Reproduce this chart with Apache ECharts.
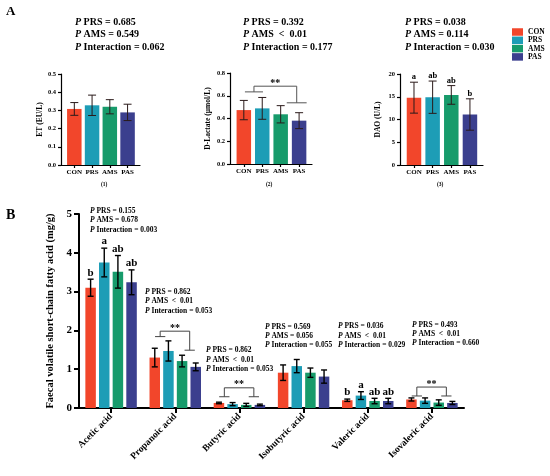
<!DOCTYPE html>
<html>
<head>
<meta charset="utf-8">
<script src="https://cdn.jsdelivr.net/npm/echarts@6/dist/echarts.min.js"></script>
<style>
html, body { margin: 0; padding: 0; background: #fff; }
#main { width: 550px; height: 476px; }
</style>
</head>
<body>
<div id="main"></div>
<script>
var groups = ['CON', 'PRS', 'AMS', 'PAS'];
var colors = ['#F2462B', '#1D9DB6', '#179B6B', '#3B3F8E'];

// panel A (mean, sd)
var etMean = [0.308, 0.328, 0.32, 0.289];
var etSd = [0.035, 0.056, 0.039, 0.045];
var dlacMean = [0.474, 0.489, 0.437, 0.381];
var dlacSd = [0.085, 0.096, 0.076, 0.07];
var daoMean = [14.8, 14.9, 15.4, 11.1];
var daoSd = [3.4, 3.55, 2.05, 3.45];
var daoLetters = ['a', 'ab', 'ab', 'b'];

// panel B
var acids = ['Acetic acid', 'Propanoic acid', 'Butyric acid', 'Isobutyric acid', 'Valeric acid', 'Isovaleric acid'];
var conMean = [3.10, 1.30, 0.13, 0.91, 0.20, 0.22];
var prsMean = [3.75, 1.47, 0.10, 1.08, 0.32, 0.19];
var amsMean = [3.51, 1.21, 0.08, 0.91, 0.18, 0.14];
var pasMean = [3.24, 1.06, 0.08, 0.81, 0.18, 0.13];
var conSd = [0.22, 0.24, 0.02, 0.20, 0.03, 0.04];
var prsSd = [0.37, 0.26, 0.04, 0.17, 0.10, 0.07];
var amsSd = [0.42, 0.15, 0.04, 0.12, 0.07, 0.07];
var pasSd = [0.32, 0.10, 0.02, 0.17, 0.07, 0.04];
var conLetters = ['b', '', '', '', 'b', ''];
var prsLetters = ['a', '', '', '', 'a', ''];
var amsLetters = ['ab', '', '', '', 'ab', ''];
var pasLetters = ['ab', '', '', '', 'ab', ''];

// significance brackets
var dlacBracket = [[0.55, 0.49, 2.87, 0.54, 0.634, 0.684, 0.538]];
var scfaBrackets = [[1, 1.84, 1.98, 1.49], [2, 0.29, 0.52, 0.29], [5, 0.31, 0.54, 0.31]];

// p-value texts
var pTextA = [
    ['PRS = 0.685', 'AMS = 0.549', 'Interaction = 0.062'],
    ['PRS = 0.392', 'AMS  <  0.01', 'Interaction = 0.177'],
    ['PRS = 0.038', 'AMS = 0.114', 'Interaction = 0.030']
];
var pTextB = [
    ['PRS = 0.155', 'AMS = 0.678', 'Interaction = 0.003'],
    ['PRS = 0.862', 'AMS  <  0.01', 'Interaction = 0.053'],
    ['PRS = 0.862', 'AMS  <  0.01', 'Interaction = 0.053'],
    ['PRS = 0.569', 'AMS = 0.056', 'Interaction = 0.055'],
    ['PRS = 0.036', 'AMS  <  0.01', 'Interaction = 0.029'],
    ['PRS = 0.493', 'AMS  <  0.01', 'Interaction = 0.660']
];

var FONT = '"Liberation Serif", "Times New Roman", serif';
var chart = echarts.init(document.getElementById('main'));

function aXAxis(gi) {
    return {
        type: 'value', gridIndex: gi, min: -0.75, max: 3.7,
        axisLine: { show: true, onZero: false, lineStyle: { color: '#000', width: 1.2 } },
        axisTick: { show: true, customValues: [0, 1, 2, 3], length: 3, lineStyle: { color: '#000', width: 1.2 } },
        axisLabel: {
            customValues: [0, 1, 2, 3],
            formatter: function (v) { return groups[Math.round(v)]; },
            fontSize: 7, fontWeight: 'bold', color: '#000', margin: 4, fontFamily: FONT
        },
        splitLine: { show: false }
    };
}
function aYAxis(gi, max, interval, digits, name, gap) {
    return {
        type: 'value', gridIndex: gi, min: 0, max: max, interval: interval,
        name: name, nameLocation: 'middle', nameGap: gap,
        nameTextStyle: { fontSize: 7.5, fontWeight: 'bold', color: '#000', fontFamily: FONT },
        axisLine: { show: true, onZero: false, lineStyle: { color: '#000', width: 1.2 } },
        axisTick: { show: true, length: 3, lineStyle: { color: '#000', width: 1.2 } },
        axisLabel: {
            formatter: function (v) { return v.toFixed(digits); },
            fontSize: 6.5, fontWeight: 'bold', color: '#000', margin: 5, fontFamily: FONT
        },
        splitLine: { show: false }
    };
}
function aBars(gi, means) {
    return {
        type: 'bar', xAxisIndex: gi, yAxisIndex: gi, barWidth: 14.5,
        data: means.map(function (m, i) {
            return { value: [i, m], itemStyle: { color: colors[i] } };
        })
    };
}
function aErrors(gi, means, sds, letters) {
    return {
        type: 'custom', xAxisIndex: gi, yAxisIndex: gi, z: 5,
        encode: { x: 0, y: 1 },
        data: means.map(function (m, i) { return [i, m, sds[i]]; }),
        renderItem: function (params, api) {
            var x = api.value(0), m = api.value(1), s = api.value(2);
            var top = api.coord([x, m + s]);
            var bot = api.coord([x, m - s]);
            var st = { stroke: '#2a1a1a', lineWidth: 1 };
            var ch = [
                { type: 'line', shape: { x1: top[0], y1: top[1], x2: bot[0], y2: bot[1] }, style: st },
                { type: 'line', shape: { x1: top[0] - 4, y1: top[1], x2: top[0] + 4, y2: top[1] }, style: st },
                { type: 'line', shape: { x1: bot[0] - 4, y1: bot[1], x2: bot[0] + 4, y2: bot[1] }, style: st }
            ];
            if (letters && letters[params.dataIndex]) {
                ch.push({ type: 'text', style: {
                    text: letters[params.dataIndex], x: top[0], y: top[1] - 0.5,
                    align: 'center', verticalAlign: 'bottom',
                    font: 'bold 8.5px ' + FONT, fill: '#000'
                } });
            }
            return { type: 'group', children: ch };
        }
    };
}

var bMeans = [conMean, prsMean, amsMean, pasMean];
var bSds = [conSd, prsSd, amsSd, pasSd];
var bLetters = [conLetters, prsLetters, amsLetters, pasLetters];
var bErrData = [];
var bErrLetters = [];
for (var k = 0; k < 4; k++) {
    for (var c = 0; c < acids.length; c++) {
        bErrData.push([c, k, bMeans[k][c], bSds[k][c]]);
        bErrLetters.push(bLetters[k][c]);
    }
}

var series = [
    aBars(0, etMean), aErrors(0, etMean, etSd, null),
    aBars(1, dlacMean), aErrors(1, dlacMean, dlacSd, null),
    aBars(2, daoMean), aErrors(2, daoMean, daoSd, daoLetters)
];

// D-Lactate bracket
series.push({
    type: 'custom', xAxisIndex: 1, yAxisIndex: 1, z: 6,
    encode: { x: 0, y: 4 },
    data: dlacBracket,
    renderItem: function (params, api) {
        var lx = api.value(0), lh = api.value(1), rx = api.value(2), rh = api.value(3);
        var ly = api.value(4), ty = api.value(5), ry = api.value(6);
        var a1 = api.coord([lx - lh, ly]), a2 = api.coord([lx + lh, ly]), a3 = api.coord([lx, ly]);
        var t1 = api.coord([lx, ty]), t2 = api.coord([rx, ty]);
        var b1 = api.coord([rx - rh, ry]), b2 = api.coord([rx + rh, ry]), b3 = api.coord([rx, ry]);
        var st = { stroke: '#555', lineWidth: 1, fill: 'none' };
        return { type: 'group', children: [
            { type: 'polyline', shape: { points: [a1, a2] }, style: st },
            { type: 'polyline', shape: { points: [a3, t1, t2, b3] }, style: st },
            { type: 'polyline', shape: { points: [b1, b2] }, style: st },
            { type: 'text', style: { text: '**', x: (t1[0] + t2[0]) / 2, y: t1[1] - 3,
                align: 'center', verticalAlign: 'middle', font: 'bold 10px ' + FONT, fill: '#000' } }
        ] };
    }
});

groups.forEach(function (g, k) {
    series.push({
        name: g, type: 'bar', xAxisIndex: 3, yAxisIndex: 3,
        barWidth: 10.5, barGap: '30%',
        itemStyle: { color: colors[k] },
        data: bMeans[k]
    });
});

series.push({
    type: 'custom', xAxisIndex: 3, yAxisIndex: 3, z: 5,
    encode: { x: 0, y: 2 },
    data: bErrData,
    renderItem: function (params, api) {
        var c = api.value(0), k = api.value(1), m = api.value(2), s = api.value(3);
        var off = (k - 1.5) * 10.5 * 1.3;
        var top = api.coord([c, m + s]);
        var bot = api.coord([c, Math.max(m - s, 0)]);
        var x = top[0] + off;
        var st = { stroke: '#000', lineWidth: 1.4 };
        var ch = [
            { type: 'line', shape: { x1: x, y1: top[1], x2: x, y2: bot[1] }, style: st },
            { type: 'line', shape: { x1: x - 3, y1: top[1], x2: x + 3, y2: top[1] }, style: st },
            { type: 'line', shape: { x1: x - 3, y1: bot[1], x2: x + 3, y2: bot[1] }, style: st }
        ];
        var L = bErrLetters[params.dataIndex];
        if (L) {
            ch.push({ type: 'text', style: { text: L, x: x, y: top[1] - 1,
                align: 'center', verticalAlign: 'bottom', font: 'bold 11px ' + FONT, fill: '#000' } });
        }
        return { type: 'group', children: ch };
    }
});

series.push({
    type: 'custom', xAxisIndex: 3, yAxisIndex: 3, z: 6,
    encode: { x: 0, y: 2 },
    data: scfaBrackets,
    renderItem: function (params, api) {
        var c = api.value(0);
        var band = api.size([1, 0])[0];
        var cx = api.coord([c, 0])[0];
        var lx = cx - 0.235 * band, rx = cx + 0.225 * band, hw = 0.08 * band;
        var ly = api.coord([c, api.value(1)])[1];
        var ty = api.coord([c, api.value(2)])[1];
        var ry = api.coord([c, api.value(3)])[1];
        var st = { stroke: '#444', lineWidth: 1, fill: 'none' };
        return { type: 'group', children: [
            { type: 'polyline', shape: { points: [[lx - hw, ly], [lx + hw, ly]] }, style: st },
            { type: 'polyline', shape: { points: [[lx, ly], [lx, ty], [rx, ty], [rx, ry]] }, style: st },
            { type: 'polyline', shape: { points: [[rx - hw, ry], [rx + hw, ry]] }, style: st },
            { type: 'text', style: { text: '**', x: (lx + rx) / 2, y: ty - 3,
                align: 'center', verticalAlign: 'middle', font: 'bold 10px ' + FONT, fill: '#000' } }
        ] };
    }
});

function pBlock(lines, x, y, size, lh) {
    return {
        type: 'text', left: x, top: y,
        style: {
            text: lines.map(function (l) { return '{i|P} ' + l; }).join('\n'),
            font: 'bold ' + size + 'px ' + FONT, fill: '#000', lineHeight: lh,
            rich: { i: { fontStyle: 'italic', fontWeight: 'bold', fontSize: size, fontFamily: FONT, lineHeight: lh } }
        }
    };
}
var graphics = [
    { type: 'text', left: 6, top: 5, style: { text: 'A', font: 'bold 13px ' + FONT, fill: '#000' } },
    { type: 'text', left: 6, top: 208, style: { text: 'B', font: 'bold 14px ' + FONT, fill: '#000' } },
    { type: 'text', left: 101, top: 182, style: { text: '(1)', font: 'bold 5.5px ' + FONT, fill: '#000' } },
    { type: 'text', left: 266, top: 182, style: { text: '(2)', font: 'bold 5.5px ' + FONT, fill: '#000' } },
    { type: 'text', left: 437, top: 182, style: { text: '(3)', font: 'bold 5.5px ' + FONT, fill: '#000' } }
];
var posA = [[75, 16], [243, 16], [405, 16]];
pTextA.forEach(function (t, i) { graphics.push(pBlock(t, posA[i][0], posA[i][1], 10, 12.5)); });
var posB = [[90, 206.5], [145, 287.6], [206, 345.8], [265, 322.3], [338, 321.8], [412, 320.3]];
pTextB.forEach(function (t, i) { graphics.push(pBlock(t, posB[i][0], posB[i][1], 7.5, 9.3)); });

var option = {
    animation: false,
    backgroundColor: '#fff',
    textStyle: { fontFamily: FONT, color: '#000' },
    legend: {
        data: groups, orient: 'vertical', left: 512, top: 28,
        itemWidth: 11, itemHeight: 7.5, itemGap: 0.3, icon: 'rect', padding: 0,
        textStyle: { fontSize: 7.5, fontWeight: 'bold', fontFamily: FONT, color: '#000', lineHeight: 7.5 }
    },
    grid: [
        { left: 61, top: 74, width: 79, height: 91 },
        { left: 230, top: 73, width: 82, height: 91 },
        { left: 400, top: 74, width: 83, height: 91 },
        { left: 79, top: 214, width: 385, height: 194 }
    ],
    xAxis: [
        aXAxis(0), aXAxis(1), aXAxis(2),
        {
            type: 'category', gridIndex: 3, data: acids,
            axisLine: { show: true, onZero: false, lineStyle: { color: '#000', width: 2 } },
            axisTick: { show: true, alignWithLabel: true, length: 5, lineStyle: { color: '#000', width: 2 } },
            axisLabel: { interval: 0, rotate: 45, margin: 7, fontSize: 9.5, fontWeight: 'bold', color: '#000', fontFamily: FONT },
            splitLine: { show: false }
        }
    ],
    yAxis: [
        aYAxis(0, 0.5, 0.1, 1, 'ET (EU/L)', 15),
        aYAxis(1, 0.8, 0.2, 1, 'D-Lactate (μmol/L)', 18),
        aYAxis(2, 20, 5, 0, 'DAO (U/L)', 17.5),
        {
            type: 'value', gridIndex: 3, min: 0, max: 5, interval: 1,
            name: 'Faecal volatile short-chain fatty acid (mg/g)', nameLocation: 'middle', nameGap: 17,
            nameTextStyle: { fontSize: 10.5, fontWeight: 'bold', color: '#000', fontFamily: FONT },
            axisLine: { show: true, onZero: false, lineStyle: { color: '#000', width: 2 } },
            axisTick: { show: true, length: 5, lineStyle: { color: '#000', width: 2 } },
            axisLabel: { fontSize: 11, fontWeight: 'bold', color: '#000', margin: 7, fontFamily: FONT },
            splitLine: { show: false }
        }
    ],
    graphic: graphics,
    series: series
};

chart.setOption(option);
window.onresize = chart.resize;
</script>
</body>
</html>
